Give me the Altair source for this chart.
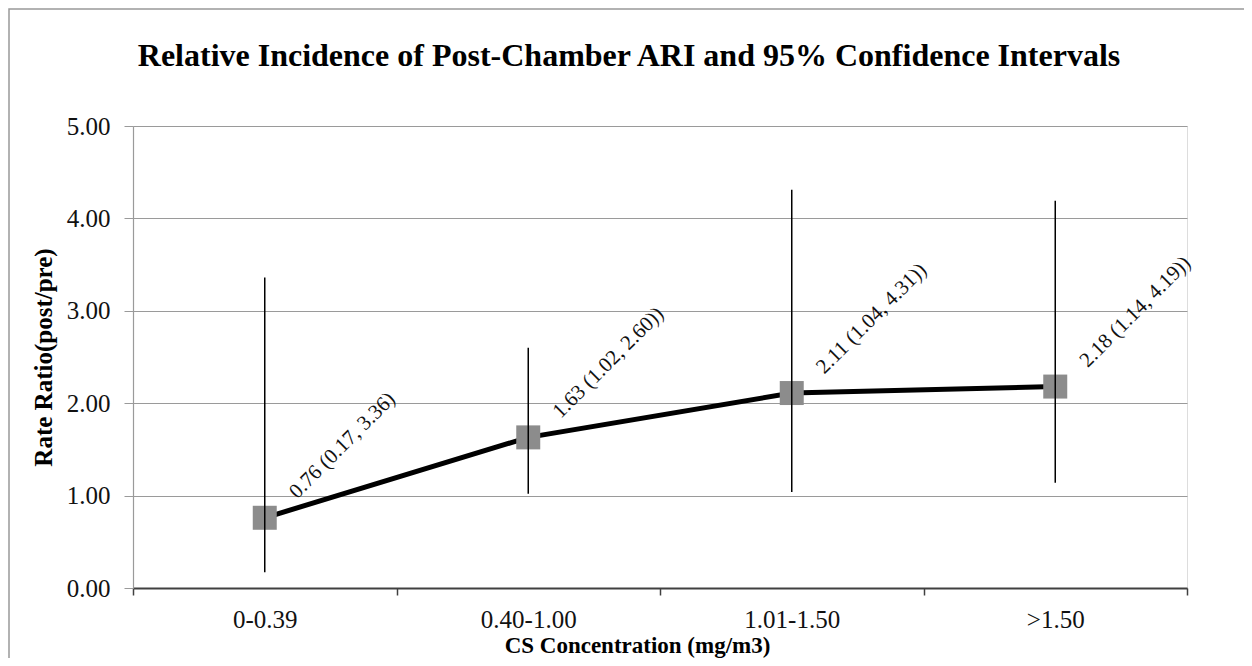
import altair as alt
import pandas as pd

categories = ["0-0.39", "0.40-1.00", "1.01-1.50", ">1.50"]
rate_ratio = [0.76, 1.63, 2.11, 2.18]
ci_low = [0.17, 1.02, 1.04, 1.14]
ci_high = [3.36, 2.60, 4.31, 4.19]
point_labels = ["0.76 (0.17, 3.36)", "1.63 (1.02, 2.60))", "2.11 (1.04, 4.31))", "2.18 (1.14, 4.19))"]
y_ticks = [0, 1, 2, 3, 4, 5]

df = pd.DataFrame({
    "cat": categories,
    "rr": rate_ratio,
    "lo": ci_low,
    "hi": ci_high,
    "lab": point_labels,
})

FONT = "Liberation Serif"

x_enc = alt.X(
    "cat:N",
    sort=categories,
    scale=alt.Scale(type="band", domain=categories, paddingInner=0, paddingOuter=0),
    axis=alt.Axis(
        title="CS Concentration (mg/m3)",
        labelAngle=0,
        tickBand="extent",
        grid=False,
        domainColor="#404040",
        domainWidth=2,
        tickColor="#404040",
        tickWidth=1.5,
        tickSize=7,
        labelPadding=12,
        labelFont=FONT,
        labelFontSize=25,
        labelColor="#111111",
        titleFont=FONT,
        titleFontSize=23,
        titleFontWeight="bold",
        titleColor="#000000",
        titleX=504,
        titleY=64,
        titleBaseline="alphabetic",
        titleAlign="center",
    ),
)

y_scale = alt.Scale(domain=[0, 5], nice=False, zero=True)
y_enc = alt.Y(
    "rr:Q",
    scale=y_scale,
    axis=alt.Axis(
        title="Rate Ratio(post/pre)",
        values=y_ticks,
        format=".2f",
        grid=True,
        gridColor="#9a9a9a",
        gridWidth=1,
        domainColor="#9a9a9a",
        domainWidth=1.2,
        tickColor="#9a9a9a",
        tickSize=9,
        labelPadding=14,
        labelFont=FONT,
        labelFontSize=25,
        labelColor="#111111",
        titleFont=FONT,
        titleFontSize=25,
        titleFontWeight="bold",
        titleColor="#000000",
        titlePadding=10,
    ),
)

base = alt.Chart(df)

border = alt.Chart(pd.DataFrame({"f": [0]})).mark_rect(
    fillOpacity=0, stroke="#999999", strokeWidth=1.5
).encode(
    x=alt.value(-124), x2=alt.value(1300), y=alt.value(-117), y2=alt.value(700)
)

line = base.mark_line(color="black", strokeWidth=5).encode(x=x_enc, y=y_enc)
pts = base.mark_square(size=576, color="#8c8c8c", opacity=1).encode(x=x_enc, y=y_enc)
err = base.mark_rule(color="black", strokeWidth=1.5).encode(
    x=x_enc, y=alt.Y("lo:Q", scale=y_scale), y2="hi:Q"
)
txt = base.mark_text(
    angle=315, align="left", baseline="alphabetic", dx=36, dy=10,
    font=FONT, fontSize=21, color="#111111"
).encode(x=x_enc, y=y_enc, text="lab:N")

chart = alt.layer(border, line, pts, err, txt).properties(
    width=1054,
    height=462,
    padding={"left": 125, "top": 118, "right": 57, "bottom": 70},
    autosize=alt.AutoSizeParams(type="none"),
    title=alt.TitleParams(
        text="Relative Incidence of Post-Chamber ARI and 95% Confidence Intervals",
        font=FONT,
        fontSize=32,
        fontWeight="bold",
        color="#000000",
        anchor="middle",
        baseline="alphabetic",
        offset=0,
        dy=90,
        dx=-31,
    ),
).configure_view(strokeWidth=0).configure(background="white")

chart.save("out.html", embed_options={"renderer": "svg", "actions": False})
